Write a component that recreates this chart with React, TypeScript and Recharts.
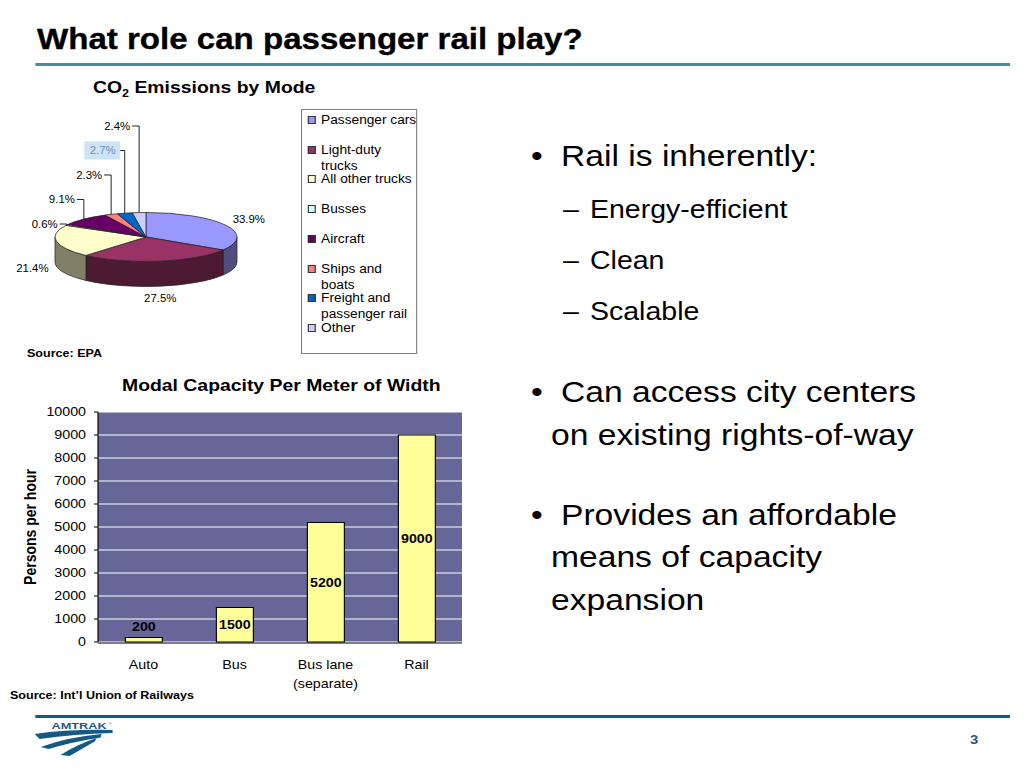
import React from 'react';
import { PieChart, Pie, Legend, BarChart, Bar, XAxis, YAxis, CartesianGrid, LabelList, Label } from 'recharts';

// CO2 emissions by mode (EPA), share in percent
const modes = [
  'Passenger cars',
  'Light-duty trucks',
  'All other trucks',
  'Busses',
  'Aircraft',
  'Ships and boats',
  'Freight and passenger rail',
  'Other',
];
const shares = [33.9, 27.5, 21.4, 0.6, 9.1, 2.3, 2.7, 2.4];
const modeColors = ['#9999ff', '#993366', '#ffffcc', '#ccffff', '#660066', '#ff8080', '#0066cc', '#ccccff'];
const highlightedMode = 'Freight and passenger rail';

// modal capacity per meter of width (UIC), persons per hour
const categories = ['Auto', 'Bus', 'Bus lane (separate)', 'Rail'];
const capacity = [200, 1500, 5200, 9000];
const capacityTicks = [0, 1000, 2000, 3000, 4000, 5000, 6000, 7000, 8000, 9000, 10000];

// the slide image is stretched sideways, so everything is laid out narrow and scaled back up
const SX = 1.14;
const X = (v: number) => v / SX;
const FONT = '"Liberation Sans", Arial, Helvetica, sans-serif';

// tilted pie geometry
const PIE_TOP = 100;
const PIE_CX = X(146);
const PIE_CY = 137;
const RX = X(91);
const RY = 24.5;
const DEPTH = 25;
const RAD = Math.PI / 180;
const LABEL_ROW0 = 26;
const LABEL_ROW_STEP = 24.5;

const pieData = modes.map((name, i) => ({ name, value: shares[i] }));
const capacityData = categories.map((name, i) => ({ name, value: capacity[i] }));
const edgeTicks = categories.map((_, i) => i).concat(categories.length);

const darken = (hex: string, f = 0.5) => {
  const n = parseInt(hex.slice(1), 16);
  const r = Math.round(((n >> 16) & 255) * f);
  const g = Math.round(((n >> 8) & 255) * f);
  const b = Math.round((n & 255) * f);
  return `rgb(${r},${g},${b})`;
};

const ept = (cx: number, cy: number, deg: number, dy = 0) => [
  cx + RX * Math.cos(deg * RAD),
  cy - RY * Math.sin(deg * RAD) + dy,
];

// draws each sector as an ellipse slice with a front wall (uses the angles recharts computed)
const SliceShape = (props: any) => {
  const { startAngle, endAngle, index } = props;
  const cx = typeof props.cx === 'number' ? props.cx : PIE_CX;
  const cy = typeof props.cy === 'number' ? props.cy : PIE_CY;
  const fill = modeColors[index];
  const lo = Math.min(startAngle, endAngle);
  const hi = Math.max(startAngle, endAngle);
  const [sx, sy] = ept(cx, cy, startAngle);
  const [ex, ey] = ept(cx, cy, endAngle);
  const large = hi - lo > 180 ? 1 : 0;
  const sweep = endAngle < startAngle ? 1 : 0;
  const top = `M${cx},${cy}L${sx},${sy}A${RX},${RY} 0 ${large} ${sweep} ${ex},${ey}Z`;

  let wall: string | null = null;
  const a0 = Math.max(lo, -180);
  const a1 = Math.min(hi, 0);
  if (a1 > a0) {
    const [x0, y0] = ept(cx, cy, a0);
    const [x1, y1] = ept(cx, cy, a1);
    wall = `M${x0},${y0}A${RX},${RY} 0 0 0 ${x1},${y1}L${x1},${y1 + DEPTH}A${RX},${RY} 0 0 1 ${x0},${y0 + DEPTH}Z`;
  }
  return (
    <g>
      {wall && <path d={wall} fill={darken(fill)} stroke="#222" strokeWidth={0.7} />}
      <path d={top} fill={fill} stroke="#222" strokeWidth={0.7} />
    </g>
  );
};

const PieLabel = (props: any) => {
  const { midAngle, index } = props;
  const cx = typeof props.cx === 'number' ? props.cx : PIE_CX;
  const cy = typeof props.cy === 'number' ? props.cy : PIE_CY;
  const cos = Math.cos(midAngle * RAD);
  const sin = Math.sin(midAngle * RAD);
  const text = `${shares[index].toFixed(1)}%`;

  if (shares[index] >= 10) {
    const lx = cx + (RX + X(8)) * cos;
    const ly = cy - (RY + 12) * sin + (sin < 0 ? DEPTH : 0);
    const anchor = cos > 0.3 ? 'start' : cos < -0.3 ? 'end' : 'middle';
    return (
      <text x={lx} y={ly} textAnchor={anchor} dominantBaseline="central" fontSize={10} fill="#000">
        {text}
      </text>
    );
  }

  // small slices: stacked labels with leader lines going up
  const row = shares.filter((s, j) => j > index && s < 10).length;
  const ax = cx + RX * cos;
  const ay = cy - RY * sin;
  const rowY = LABEL_ROW0 + row * LABEL_ROW_STEP;
  const tx = ax - X(9);
  const hi = modes[index] === highlightedMode;
  return (
    <g>
      <path d={`M${ax},${ay}V${rowY}H${ax - X(7)}`} stroke="#000" strokeWidth={0.8} fill="none" />
      {hi && <rect x={tx - X(31.5)} y={rowY - 9} width={X(36)} height={18} fill="#cfe3f6" />}
      <text x={tx} y={rowY} textAnchor="end" dominantBaseline="central" fontSize={10} fill={hi ? '#6b90bf' : '#000'}>
        {text}
      </text>
    </g>
  );
};

const ModeLegend = () => (
  <div
    style={{
      width: '100%',
      height: '100%',
      boxSizing: 'border-box',
      border: '1px solid #7f7f7f',
      background: '#fff',
      position: 'relative',
      fontSize: 12,
      lineHeight: '16px',
      color: '#000',
    }}
  >
    {modes.map((m, i) => (
      <div key={m} style={{ position: 'absolute', left: 0, top: 2 + i * 29.7, width: '100%' }}>
        <span
          style={{
            position: 'absolute',
            left: X(6),
            top: 4,
            width: X(8),
            height: 8,
            boxSizing: 'border-box',
            background: modeColors[i],
            border: '1px solid #333',
          }}
        />
        <span style={{ position: 'absolute', left: X(19), top: 0, width: 85.5 }}>{m}</span>
      </div>
    ))}
  </div>
);

const CategoryTick = ({ x, y, payload }: any) => {
  const value = String(payload.value);
  const m = value.match(/^(.*?)\s*(\(.*\))$/);
  const lines = m ? [m[1], m[2]] : [value];
  return (
    <text x={x} y={y} textAnchor="middle" fontSize={12.5} fill="#000">
      {lines.map((l, i) => (
        <tspan key={i} x={x} dy={i === 0 ? 27.5 : 19}>
          {l}
        </tspan>
      ))}
    </text>
  );
};

const BarValue = (props: any) => {
  const vb = props.viewBox && props.viewBox.width !== undefined ? props.viewBox : props;
  const { x, y, width, height } = vb;
  const inside = height > 20;
  const cy = inside ? y + height / 2 : y - 11;
  return (
    <text x={x + width / 2} y={cy} dy="0.36em" textAnchor="middle" fontSize={12.5} fontWeight="bold" fill="#000">
      {props.value}
    </text>
  );
};

const YTitle = ({ viewBox }: any) => {
  const tx = viewBox.x + X(20);
  const ty = viewBox.y + viewBox.height / 2;
  return (
    <text
      x={tx}
      y={ty}
      transform={`rotate(-90 ${tx} ${ty})`}
      textAnchor="middle"
      dominantBaseline="central"
      fontSize={14}
      fontWeight="bold"
      fill="#000"
    >
      Persons per hour
    </text>
  );
};

// text placed by its left edge (page px) and the visual middle of its capitals
const Txt = ({ x, cy, size, bold, color, heavy, children }: any) => (
  <div
    style={{
      position: 'absolute',
      left: X(x),
      top: cy - size / 2,
      fontSize: size,
      lineHeight: 1,
      fontWeight: bold ? 'bold' : 'normal',
      color: color || '#000',
      whiteSpace: 'nowrap',
      WebkitTextStroke: heavy ? `0.35px ${color || '#000'}` : undefined,
    }}
  >
    {children}
  </div>
);

const AmtrakLogo = () => (
  <svg
    style={{ position: 'absolute', left: X(30), top: 720 }}
    width={X(90)}
    height={40}
    viewBox="0 0 90 40"
    preserveAspectRatio="none"
  >
    <text x={22} y={9.5} fontSize={9.5} fontWeight="bold" fill="#1a5a8a" textLength={55} lengthAdjust="spacingAndGlyphs">
      AMTRAK
    </text>
    <text x={79} y={5} fontSize={4} fill="#1a5a8a">®</text>
    <path d="M5,14 Q40,9 83,10 L83,13 Q45,14 10,19 Z" fill="#145a84" />
    <path d="M11,27 Q38,17 72,14 L71,17.5 Q42,22 19,29 Z" fill="#145a84" />
    <path d="M31,35 Q48,24 67,18 L65,21.5 Q52,29 40,36 Z" fill="#145a84" />
  </svg>
);

export default function App() {
  return (
    <div style={{ position: 'absolute', left: 0, top: 0, width: 1024, height: 768, overflow: 'hidden', background: '#fff' }}>
      <div
        style={{
          position: 'absolute',
          left: 0,
          top: 0,
          width: X(1024),
          height: 768,
          transform: `scaleX(${SX})`,
          transformOrigin: '0 0',
          fontFamily: FONT,
        }}
      >
        <Txt x={37} cy={39.5} size={29} bold heavy>
          What role can passenger rail play?
        </Txt>
        <div style={{ position: 'absolute', left: X(35), top: 63, width: X(975), height: 3, background: '#4b8b9b' }} />

        <Txt x={93} cy={87} size={17} bold>
          CO<span style={{ fontSize: 11, position: 'relative', top: 4 }}>2</span> Emissions by Mode
        </Txt>

        <div style={{ position: 'absolute', left: 0, top: PIE_TOP }}>
          <PieChart width={X(420)} height={260} margin={{ top: 0, right: 0, bottom: 0, left: 0 }}>
            <Pie
              data={pieData}
              dataKey="value"
              nameKey="name"
              cx={PIE_CX}
              cy={PIE_CY}
              innerRadius={0}
              outerRadius={RX}
              startAngle={90}
              endAngle={-270}
              fill="transparent"
              stroke="none"
              label={SliceShape}
              labelLine={false}
              isAnimationActive={false}
            />
            <Pie
              data={pieData}
              dataKey="value"
              nameKey="name"
              cx={PIE_CX}
              cy={PIE_CY}
              innerRadius={0}
              outerRadius={RX}
              startAngle={90}
              endAngle={-270}
              fill="transparent"
              stroke="none"
              label={PieLabel}
              labelLine={false}
              legendType="none"
              isAnimationActive={false}
            />
            <Legend
              content={<ModeLegend />}
              wrapperStyle={{ position: 'absolute', left: X(301), top: 9, width: X(116), height: 245 }}
            />
          </PieChart>
        </div>

        <Txt x={27} cy={353} size={11} bold>
          Source: EPA
        </Txt>

        <Txt x={122} cy={385} size={17} bold>
          Modal Capacity Per Meter of Width
        </Txt>

        <div style={{ position: 'absolute', left: 0, top: 370 }}>
          <BarChart
            width={X(480)}
            height={330}
            data={capacityData}
            margin={{ top: 42, right: X(18), left: X(10), bottom: 56 }}
          >
            <CartesianGrid vertical={false} stroke="#ffffff" strokeWidth={1} fill="#666699" fillOpacity={1} />
            <XAxis
              xAxisId="edge"
              type="number"
              domain={[0, categories.length]}
              ticks={edgeTicks}
              tick={false}
              tickSize={5}
              height={1}
              stroke="#000"
            />
            <XAxis
              dataKey="name"
              height={1}
              interval={0}
              tickSize={0}
              tickMargin={0}
              axisLine={false}
              tickLine={false}
              tick={<CategoryTick />}
            />
            <YAxis
              width={X(88)}
              domain={[0, 10000]}
              ticks={capacityTicks}
              interval={0}
              tickSize={X(4)}
              tickMargin={X(8)}
              stroke="#000"
              tick={{ fontSize: 12.5, fill: '#000' }}
            >
              <Label content={YTitle} />
            </YAxis>
            <Bar dataKey="value" fill="#ffff99" stroke="#000" strokeWidth={1} barSize={X(37)} isAnimationActive={false}>
              <LabelList dataKey="value" content={BarValue} />
            </Bar>
          </BarChart>
        </div>

        <Txt x={10} cy={695} size={11} bold>
          Source: Int’l Union of Railways
        </Txt>

        <Txt x={531} cy={155.5} size={29.5}>•</Txt>
        <Txt x={561} cy={155.5} size={29.5}>Rail is inherently:</Txt>
        <Txt x={563} cy={209.5} size={25}>–</Txt>
        <Txt x={590} cy={209.5} size={25}>Energy-efficient</Txt>
        <Txt x={563} cy={260.5} size={25}>–</Txt>
        <Txt x={590} cy={260.5} size={25}>Clean</Txt>
        <Txt x={563} cy={311.3} size={25}>–</Txt>
        <Txt x={590} cy={311.3} size={25}>Scalable</Txt>

        <Txt x={531} cy={392} size={29.5}>•</Txt>
        <Txt x={561} cy={392} size={29.5}>Can access city centers</Txt>
        <Txt x={551} cy={435} size={29.5}>on existing rights-of-way</Txt>

        <Txt x={531} cy={514.5} size={29.5}>•</Txt>
        <Txt x={561} cy={514.5} size={29.5}>Provides an affordable</Txt>
        <Txt x={551} cy={557} size={29.5}>means of capacity</Txt>
        <Txt x={551} cy={599.5} size={29.5}>expansion</Txt>

        <div style={{ position: 'absolute', left: X(35), top: 715, width: X(975), height: 3, background: '#145a7c' }} />
        <AmtrakLogo />
        <Txt x={970} cy={739} size={13} bold color="#1b5a80">
          3
        </Txt>
      </div>
    </div>
  );
}
